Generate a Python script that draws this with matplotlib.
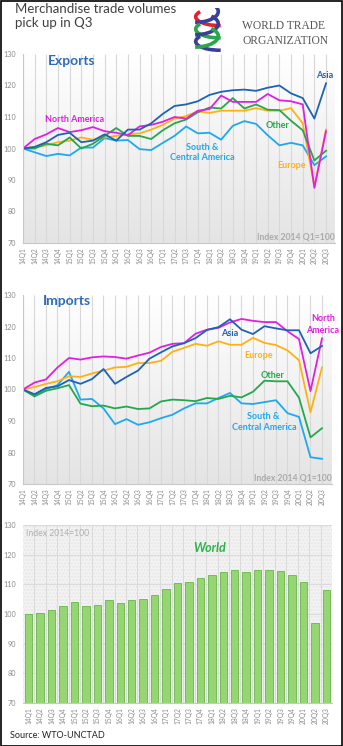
import matplotlib.pyplot as plt
import numpy as np
from matplotlib.patches import Arc, Rectangle
from matplotlib.colors import LinearSegmentedColormap

plt.rcParams['font.family'] = ['Lato', 'DejaVu Sans']

W, H = 343, 746

#---------------------- data ----------------------
quarters = [f'{y}Q{q}' for y in range(14, 21) for q in range(1, 5)][:27]

exp_asia = [100, 100.5, 102, 104.3, 105, 102, 102.5, 104.5, 102.5, 106, 106, 108,
            111, 113.5, 114, 115, 117, 118, 118.5, 118.7, 118.3, 119.3, 120, 117.5,
            116, 109.5, 120.7]
exp_nam = [100, 103, 104.5, 106.5, 105.2, 105.8, 106.8, 105.5, 105, 104.2, 107, 107.5,
           108.5, 110, 109.5, 112, 112.5, 116.8, 114.8, 114.8, 114.8, 117.3, 115.3, 115,
           114, 87.5, 105.5]
exp_eur = [100, 100.5, 101, 102, 102.5, 103.5, 102.8, 103.5, 104, 104.5, 104.8, 106,
           107.5, 109.5, 110.3, 111.8, 111.3, 112, 112, 112, 112.8, 112, 112, 112.8,
           108, 88, 106]
exp_oth = [100, 100, 101.5, 101, 103.5, 100, 101.5, 104, 106.5, 104, 104, 103,
           105.8, 108, 109.2, 111.5, 113, 112.7, 116, 112.7, 114, 112.3, 112.2, 108.8,
           105.8, 96.2, 99.3]
exp_sca = [100, 98.8, 97.6, 98.3, 97.8, 100.3, 100.3, 103.3, 102.5, 102.7, 99.8, 99.5,
           101.8, 104, 107, 104.8, 105, 102.8, 107.2, 108.7, 107.8, 104.2, 101, 101.8,
           101, 94.7, 97.5]

imp_asia = [100, 98.5, 100.5, 101, 103, 101.8, 103.3, 106.5, 101.8, 104, 106, 109.8,
            111.8, 113.7, 114.7, 116.3, 118.9, 119.8, 122.3, 119, 117.6, 120.1, 119.4, 118.8,
            118.8, 111.5, 113.8]
imp_nam = [100, 102.2, 103.2, 107, 110, 109.5, 110.2, 110.5, 110.3, 109.8, 110.8, 111.7,
           113.5, 114.5, 114.7, 117.7, 119, 119.6, 121.3, 122.4, 121.8, 121.4, 121.4, 118.5,
           116, 99.5, 116.2]
imp_eur = [100, 100.8, 101.8, 102.6, 104.2, 104, 105.1, 106, 107, 107.2, 108.4, 108.4,
           109.1, 112, 113.2, 114.5, 113.9, 115.3, 114.2, 114.2, 116.4, 114.8, 114.1, 112.4,
           109.3, 92.8, 107]
imp_oth = [100, 97.8, 99.6, 100.4, 101.4, 95.5, 94.7, 94.9, 94, 94.6, 93.8, 94,
           96.2, 96.8, 96.6, 96.3, 97.3, 97, 98, 97.5, 99.3, 102.8, 102.6, 102.6,
           97.4, 84.8, 87.7]
imp_sca = [100, 98.2, 100.1, 101.4, 105.6, 96.8, 97, 94, 89, 90.6, 88.8, 89.6,
           90.9, 92, 94, 95.6, 95.6, 97.3, 98.9, 95.6, 95.4, 96, 96.6, 92.5,
           91.3, 78.5, 78]

world = [100, 100.2, 101.2, 102.6, 103.9, 102.6, 103.2, 104.7, 103.6, 104.7, 105.2, 106.4,
         108.3, 110.3, 110.9, 112.3, 113.3, 114.3, 114.9, 114.3, 114.7, 114.7, 114.5, 113.3,
         110.9, 96.8, 108]

C_ASIA = '#1F62B5'
C_NAM = '#E21FE0'
C_EUR = '#FFB20F'
C_OTH = '#23A84B'
C_SCA = '#1DA9EE'
GREY = '#8C8C8C'

fig = plt.figure(figsize=(W / 100, H / 100), dpi=100)
fig.patch.set_facecolor('white')


def box(l, t, r, b):
    return fig.add_axes([l / W, 1 - b / H, (r - l) / W, (b - t) / H])


def ftext(x, y, s, **kw):
    fig.text(x / W, 1 - y / H, s, **kw)


grad_cmap = LinearSegmentedColormap.from_list('g', ['#E4E4E4', '#FFFFFF'])


def line_panel(ax, xmax, series):
    x = np.arange(len(quarters))
    grad = np.linspace(0, 1, 100).reshape(-1, 1)
    ax.imshow(grad, extent=[0, xmax, 70, 130], aspect='auto', cmap=grad_cmap,
              origin='lower', zorder=0)
    ax.vlines(x, 70, 130, color='#D8D8D8', lw=0.8, zorder=0.5)
    for vals, col in series:
        ax.plot(x, vals, color=col, lw=1.3, zorder=2)
    ax.set_xlim(0, xmax)
    ax.set_ylim(70, 130)
    ax.set_yticks(range(70, 131, 10))
    ax.set_xticks(x)
    ax.set_xticklabels(quarters, rotation=90)
    for s in ['top', 'right']:
        ax.spines[s].set_visible(False)
    for s in ['left', 'bottom']:
        ax.spines[s].set_color('#C8C8C8')
        ax.spines[s].set_linewidth(0.8)
    ax.tick_params(length=0, labelsize=5.2, colors=GREY, pad=5)
    ax.tick_params(axis='x', pad=3, labelsize=4.8)


#------------------- Exports --------------------
ax1 = box(23, 54, 335, 243)
line_panel(ax1, 26.77, [(exp_sca, C_SCA), (exp_eur, C_EUR), (exp_oth, C_OTH),
                        (exp_nam, C_NAM), (exp_asia, C_ASIA)])
ftext(48, 61, 'Exports', fontsize=10, fontweight='bold', color='#2F6DB8', va='center')
ftext(333, 75, 'Asia', fontsize=6.5, fontweight='bold', color=C_ASIA, va='center', ha='right')
ftext(45, 120, 'North America', fontsize=6.5, fontweight='bold', color=C_NAM, va='center')
ftext(278, 125, 'Other', fontsize=6.5, fontweight='bold', color=C_OTH, va='center', ha='center')
ftext(202, 147, 'South &', fontsize=6.5, fontweight='bold', color=C_SCA, va='center', ha='center')
ftext(202, 158, 'Central America', fontsize=6.5, fontweight='bold', color=C_SCA, va='center', ha='center')
ftext(292, 166, 'Europe', fontsize=6.5, fontweight='bold', color=C_EUR, va='center', ha='center')
ftext(335, 237, 'Index 2014 Q1=100', fontsize=6.2, fontweight='bold', color='#AAAAAA',
      va='center', ha='right')

#------------------- Imports --------------------
ax2 = box(23, 295, 332, 484)
line_panel(ax2, 26.87, [(imp_sca, C_SCA), (imp_oth, C_OTH), (imp_eur, C_EUR),
                        (imp_nam, C_NAM), (imp_asia, C_ASIA)])
ftext(43, 301, 'Imports', fontsize=10, fontweight='bold', color='#2F6DB8', va='center')
ftext(323, 319, 'North', fontsize=6.5, fontweight='bold', color=C_NAM, va='center', ha='center')
ftext(323, 330, 'America', fontsize=6.5, fontweight='bold', color=C_NAM, va='center', ha='center')
ftext(230, 333, 'Asia', fontsize=6.5, fontweight='bold', color=C_ASIA, va='center', ha='center')
ftext(259, 355, 'Europe', fontsize=6.5, fontweight='bold', color=C_EUR, va='center', ha='center')
ftext(273, 375, 'Other', fontsize=6.5, fontweight='bold', color=C_OTH, va='center', ha='center')
ftext(263, 416, 'South &', fontsize=6.5, fontweight='bold', color=C_SCA, va='center', ha='center')
ftext(264, 427, 'Central America', fontsize=6.5, fontweight='bold', color=C_SCA, va='center', ha='center')
ftext(332, 478, 'Index 2014 Q1=100', fontsize=6.2, fontweight='bold', color='#AAAAAA',
      va='center', ha='right')

#------------------- World bars --------------------
ax3 = box(23, 525, 332, 703)
xb = np.arange(len(quarters))
ax3.set_facecolor('#F3F3F3')
ax3.add_patch(Rectangle((-0.5, 70), 27, 60, facecolor='none', edgecolor='#E6E6E6',
                        hatch='.....', lw=0, zorder=0))
ax3.vlines(xb + 0.5, 70, 130, color='#DADADA', lw=0.7, zorder=0.5)
ax3.hlines(range(80, 131, 10), -0.5, 26.5, color='#DADADA', lw=0.7, zorder=0.5)
ax3.bar(xb, [v - 70 for v in world], bottom=70, width=0.66, color='#95D672',
        edgecolor='#68B74A', lw=0.6, zorder=2)
ax3.set_xlim(-0.5, 26.5)
ax3.set_ylim(70, 130)
ax3.set_yticks(range(70, 131, 10))
ax3.set_xticks(xb)
ax3.set_xticklabels(quarters, rotation=90)
for s in ['top', 'right', 'left']:
    ax3.spines[s].set_visible(False)
ax3.spines['bottom'].set_color('#C8C8C8')
ax3.tick_params(length=0, labelsize=5.2, colors=GREY, pad=5)
ax3.tick_params(axis='x', pad=3, labelsize=4.8)
ftext(26, 533, 'Index 2014=100', fontsize=6.2, color='#B0B0B0', va='center')
ftext(210, 548, 'World', fontsize=9, fontweight='bold', style='italic', color='#2DB34A',
      va='center', ha='center')
ftext(10, 735, 'Source: WTO-UNCTAD', fontsize=6.5, color='#222222', va='center')

#------------------- title & logo --------------------
ftext(15, 16, 'Merchandise trade volumes\npick up in Q3', fontsize=9.5, color='#404040',
      va='center', linespacing=1.25)

logo = box(184, 8, 230, 52)
logo.set_xlim(0, 1)
logo.set_ylim(0, 1)
logo.axis('off')
arcs = [  # (cx, cy, w, h, t1, t2, color)
    (0.78, 0.80, 1.05, 0.40, 165, 275, '#E5202E'),
    (0.22, 0.92, 1.05, 0.50, 275, 385, '#3A3F9A'),
    (0.78, 0.52, 1.05, 0.40, 165, 275, '#2BA44A'),
    (0.22, 0.64, 1.05, 0.50, 275, 385, '#3A3F9A'),
    (0.78, 0.24, 1.05, 0.40, 165, 275, '#3A3F9A'),
    (0.22, 0.36, 1.05, 0.50, 275, 385, '#2BA44A'),
]
for cx, cy, w, h, t1, t2, col in arcs:
    logo.add_patch(Arc((cx, cy), w, h, theta1=t1, theta2=t2, color=col, lw=2.6))

ftext(242, 26, 'WORLD TRADE', fontsize=8.3, family='Liberation Serif', color='#555555', va='center')
ftext(242, 41, 'ORGANIZATION', fontsize=8.3, family='Liberation Serif', color='#555555', va='center')

# frame
fig.add_artist(Rectangle((0.5 / W, 0.5 / H), 1 - 1.5 / W, 1 - 1.5 / H, transform=fig.transFigure,
                         facecolor='none', edgecolor='black', lw=1.2))

fig.savefig('out.png', dpi=100)
